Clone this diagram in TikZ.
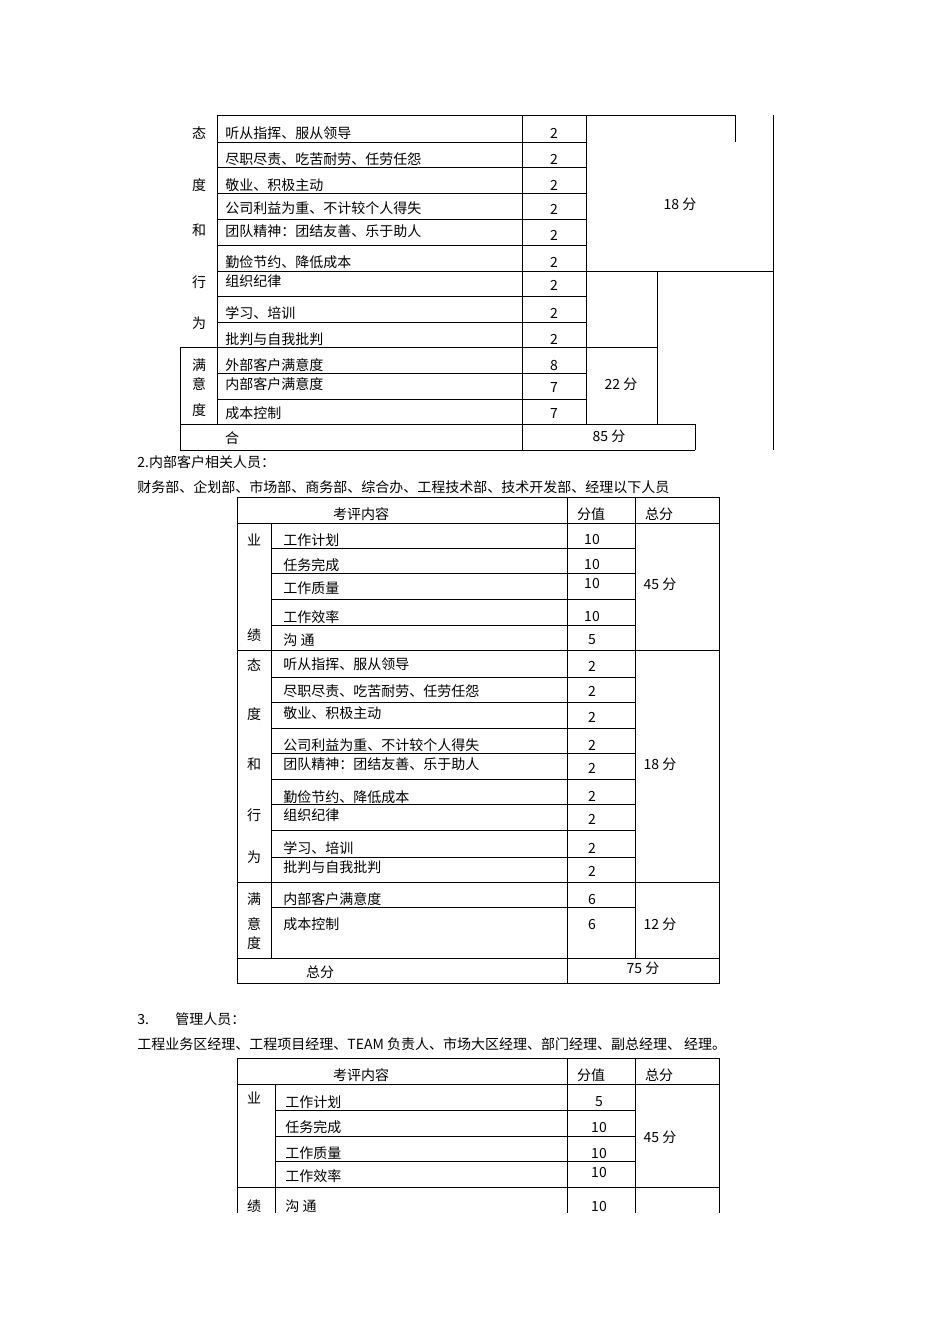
\documentclass[tikz,border=0pt]{standalone}
\usepackage{fontspec}
\setmainfont{Noto Sans CJK SC}
\begin{document}
\begin{tikzpicture}[x=0.75pt,y=-0.75pt,line width=0.6pt,
  txt/.style={inner sep=0pt,font=\fontsize{10.5}{12}\selectfont},
  lt/.style={txt,anchor=west}]
\useasboundingbox (0,0) rectangle (950,1344);
% ---------- table 1 ----------
\draw (217,115)--(735,115) (735,115)--(735,142);
\foreach \y in {142,167,193,219,245} \draw (217,\y)--(586,\y);
\draw (217,271)--(773,271);
\foreach \y in {296,322} \draw (217,\y)--(586,\y);
\draw (180,347)--(657,347);
\foreach \y in {373,399} \draw (217,\y)--(586,\y);
\draw (180,424)--(695,424) (180,450)--(695,450);
\draw (180,347)--(180,450) (217,115)--(217,424) (522,115)--(522,450)
      (586,115)--(586,424) (657,271)--(657,424) (695,424)--(695,450) (773,115)--(773,450);
\foreach \t/\y [count=\i] in {态/133,度/185,和/230,行/282,为/323,满/365,意/384,度/410}
  \node[txt,name=a\i] at (199,\y) {\t};
\foreach \t/\y [count=\i] in {听从指挥、服从领导/133,尽职尽责、吃苦耐劳、任劳任怨/159,敬业、积极主动/185,公司利益为重、不计较个人得失/208,团队精神：团结友善、乐于助人/231,勤俭节约、降低成本/262,组织纪律/281,学习、培训/313,批判与自我批判/339,外部客户满意度/365,内部客户满意度/384,成本控制/413}
  \node[lt,name=b\i] at (225,\y) {\t};
\foreach \t/\y [count=\i] in {2/133,2/159,2/185,2/209,2/235,2/262,2/285,2/313,2/339,8/366,7/388,7/414}
  \node[txt,name=c\i] at (554,\y) {\t};
\node[txt] (s18) at (680,204) {18 分};
\node[txt] (s22) at (621,384) {22 分};
\node[txt] (s85) at (609,436) {85 分};
\node[txt] (he) at (232,438) {合};
% ---------- section 2 ----------
\node[lt] (h2) at (137,462) {2.内部客户相关人员：};
\node[lt] (d2) at (137,487) {财务部、企划部、市场部、商务部、综合办、工程技术部、技术开发部、经理以下人员};
\draw (237,497) rectangle (719,983);
\draw (237,523)--(719,523) (237,650)--(719,650) (237,882)--(719,882) (237,958)--(719,958);
\foreach \y in {548,573,599,625,677,702,728,753,779,804,830,857,907} \draw (271,\y)--(635,\y);
\draw (271,523)--(271,958) (567,497)--(567,983) (635,497)--(635,958);
\node[txt] (k2) at (361,514) {考评内容};
\node[txt] (f2) at (591,514) {分值};
\node[txt] (z2) at (659,514) {总分};
\foreach \t/\y [count=\i] in {业/540,绩/635,态/665,度/714,和/764,行/815,为/857,满/899,意/924,度/943}
  \node[txt,name=e\i] at (254,\y) {\t};
\foreach \t/\y [count=\i] in {工作计划/540,任务完成/565,工作质量/588,工作效率/617,沟\ 通/640,听从指挥、服从领导/664,尽职尽责、吃苦耐劳、任劳任怨/691,敬业、积极主动/713,公司利益为重、不计较个人得失/745,团队精神：团结友善、乐于助人/764,勤俭节约、降低成本/797,组织纪律/815,学习、培训/848,批判与自我批判/867,内部客户满意度/899,成本控制/924}
  \node[lt,name=g\i] at (283,\y) {\t};
\foreach \t/\y [count=\i] in {10/540,10/565,10/584,10/617,5/640,2/666,2/691,2/717,2/745,2/768,2/796,2/819,2/848,2/871,6/899,6/924}
  \node[txt,name=h\i] at (592,\y) {\t};
\node[txt] (t45) at (660,584) {45 分};
\node[txt] (t18) at (660,764) {18 分};
\node[txt] (t12) at (660,924) {12 分};
\node[txt] (t75) at (643,968) {75 分};
\node[txt] (tz) at (320,972) {总分};
% ---------- section 3 ----------
\node[lt] (h3a) at (137,1019) {3.};
\node[lt] (h3) at (175,1019) {管理人员：};
\node[lt] (d3) at (137,1044) {工程业务区经理、工程项目经理、TEAM 负责人、市场大区经理、部门经理、副总经理、\ 经理。};
\draw (237,1213)--(237,1058)--(719,1058)--(719,1213);
\draw (237,1084)--(719,1084) (237,1187)--(719,1187);
\foreach \y in {1110,1136,1161} \draw (275,\y)--(635,\y);
\draw (275,1084)--(275,1213) (567,1058)--(567,1213) (635,1058)--(635,1213);
\node[txt] (k3) at (361,1075) {考评内容};
\node[txt] (f3) at (591,1075) {分值};
\node[txt] (z3) at (659,1075) {总分};
\node[txt] (y3) at (254,1098) {业};
\node[txt] (j3) at (254,1206) {绩};
\foreach \t/\y [count=\i] in {工作计划/1102,任务完成/1127,工作质量/1153,工作效率/1176,沟\ 通/1206}
  \node[lt,name=m\i] at (285,\y) {\t};
\foreach \t/\y [count=\i] in {5/1102,10/1127,10/1153,10/1172,10/1206}
  \node[txt,name=n\i] at (599,\y) {\t};
\node[txt] (u45) at (660,1137) {45 分};
\end{tikzpicture}
\end{document}
